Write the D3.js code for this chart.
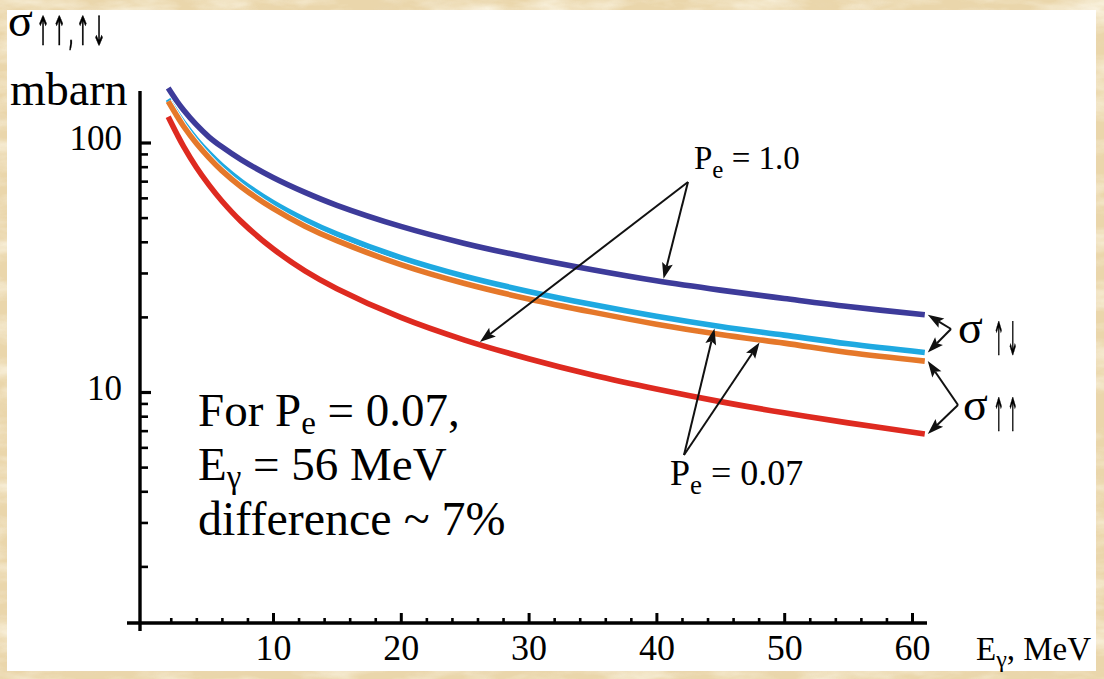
<!DOCTYPE html>
<html>
<head>
<meta charset="utf-8">
<script src="https://cdn.jsdelivr.net/npm/d3@7"></script>
<style>
  html, body { margin: 0; padding: 0; background: #ead6ab; }
  svg { display: block; }
  text { font-family: "Liberation Serif", "Times New Roman", serif; fill: #000; }
</style>
</head>
<body>
<svg id="chart" width="1104" height="679"></svg>
<script>
// Photon energy grid, MeV
const energy = [1.8, 2.5, 3, 4, 5, 6, 7.5, 10, 12.5, 15, 20, 25, 30, 35, 40, 45, 50, 55, 61];

// Cross sections, mbarn
const sigmaUpDownPe100 = [165.4, 146.0, 135.0, 117.9, 105.2, 96.1, 85.4, 72.4, 63.1, 56.0, 46.1, 39.4, 34.6, 30.9, 27.9, 25.6, 23.7, 22.0, 20.4];
const sigmaUpDownPe007 = [149.0, 130.6, 119.7, 102.8, 90.3, 80.6, 69.8, 57.4, 49.0, 42.9, 34.55, 29.1, 25.3, 22.4, 20.1, 18.3, 16.9, 15.6, 14.4];
const sigmaUpUpPe007   = [146.1, 127.4, 116.2, 99.3, 86.8, 77.1, 66.5, 54.4, 46.2, 40.4, 32.4, 27.2, 23.6, 20.9, 18.7, 17.0, 15.7, 14.4, 13.3];
const sigmaUpUpPe100   = [126.9, 107.7, 96.5, 79.6, 67.5, 58.3, 48.3, 37.5, 30.6, 25.96, 19.9, 16.15, 13.6, 11.7, 10.28, 9.15, 8.25, 7.52, 6.79];

// Axis ticks
const xTickMajor = [10, 20, 30, 40, 50, 60];
const xTickMinor = [2, 4, 6, 8, 12, 14, 16, 18, 22, 24, 26, 28, 32, 34, 36, 38, 42, 44, 46, 48, 52, 54, 56, 58];
const yTickMajor = [10, 100];
const yTickMinor = [2, 3, 4, 5, 6, 7, 8, 9, 20, 30, 40, 50, 60, 70, 80, 90];

const svg = d3.select("#chart");

// ---- parchment frame and white panel ----
const defs = svg.append("defs");
const fLight = defs.append("filter").attr("id", "grainLight")
  .attr("x", 0).attr("y", 0).attr("width", "100%").attr("height", "100%");
fLight.append("feTurbulence").attr("type", "fractalNoise")
  .attr("baseFrequency", "0.015 0.05").attr("numOctaves", 4).attr("seed", 7);
fLight.append("feColorMatrix").attr("type", "matrix")
  .attr("values", "0 0 0 0 0.98  0 0 0 0 0.94  0 0 0 0 0.82  2.2 0 0 0 -0.9");
const fDark = defs.append("filter").attr("id", "grainDark")
  .attr("x", 0).attr("y", 0).attr("width", "100%").attr("height", "100%");
fDark.append("feTurbulence").attr("type", "fractalNoise")
  .attr("baseFrequency", "0.03 0.08").attr("numOctaves", 3).attr("seed", 19);
fDark.append("feColorMatrix").attr("type", "matrix")
  .attr("values", "0 0 0 0 0.82  0 0 0 0 0.70  0 0 0 0 0.50  2.4 0 0 0 -1.35");
// pass-through filter so narrow glyphs get plain grey antialiasing
defs.append("filter").attr("id", "flat").append("feOffset").attr("dx", 0).attr("dy", 0);

svg.append("rect").attr("width", 1104).attr("height", 679).attr("fill", "#ead6ab");
svg.append("rect").attr("width", 1104).attr("height", 679).attr("filter", "url(#grainLight)").attr("opacity", 0.8);
svg.append("rect").attr("width", 1104).attr("height", 679).attr("filter", "url(#grainDark)").attr("opacity", 0.35);
svg.append("rect").attr("x", 7).attr("y", 10).attr("width", 1089).attr("height", 661).attr("fill", "#ffffff");

// ---- scales ----
const AXIS_X = 140;   // vertical axis position
const AXIS_Y = 623;   // horizontal axis position
const x = d3.scaleLinear().domain([10, 60]).range([273, 912]);
const y = d3.scaleLog().domain([10, 100]).range([392, 142.5]);

// ---- axes ----
function styleAxis(g, width) {
  g.select(".domain").remove();
  g.selectAll(".tick line").attr("stroke", "#000").attr("stroke-width", width);
  g.selectAll(".tick text").attr("fill", "#000")
    .style("font-family", '"Liberation Serif", "Times New Roman", serif');
}

svg.append("g").attr("transform", `translate(0,${AXIS_Y})`)
  .call(d3.axisBottom(x).tickValues(xTickMinor).tickSize(-5).tickFormat(""))
  .call(g => styleAxis(g, 2.6));
svg.append("g").attr("transform", `translate(0,${AXIS_Y})`)
  .call(d3.axisBottom(x).tickValues(xTickMajor).tickSize(-10).tickPadding(11).tickFormat(d3.format("d")))
  .call(g => styleAxis(g, 3))
  .call(g => g.selectAll(".tick text").style("font-size", "36px"));

svg.append("g").attr("transform", `translate(${AXIS_X},0)`)
  .call(d3.axisLeft(y).tickValues(yTickMinor).tickSize(-8).tickFormat(""))
  .call(g => styleAxis(g, 2.6));
svg.append("g").attr("transform", `translate(${AXIS_X},0)`)
  .call(d3.axisLeft(y).tickValues(yTickMajor).tickSize(-11).tickPadding(18).tickFormat(d3.format("d")))
  .call(g => styleAxis(g, 3.2))
  .call(g => g.selectAll(".tick text").style("font-size", "35px").attr("dy", "0.2em"));

// axis lines
svg.append("line").attr("x1", 127).attr("x2", 927).attr("y1", AXIS_Y).attr("y2", AXIS_Y)
  .attr("stroke", "#000").attr("stroke-width", 3.4);
svg.append("line").attr("x1", AXIS_X).attr("x2", AXIS_X).attr("y1", 91).attr("y2", 631)
  .attr("stroke", "#000").attr("stroke-width", 3.4);

// ---- curves ----
const series = [
  { key: "updown007", values: sigmaUpDownPe007, color: "#1fa9e1" },
  { key: "upup007",   values: sigmaUpUpPe007,   color: "#e5782a" },
  { key: "upup100",   values: sigmaUpUpPe100,   color: "#de2a20" },
  { key: "updown100", values: sigmaUpDownPe100, color: "#3d3b9a" }
];
const line = d3.line().x(d => x(d[0])).y(d => y(d[1])).curve(d3.curveCatmullRom.alpha(0.5));

const curves = svg.append("g").attr("fill", "none");
series.forEach(s => {
  const pts = energy.map((e, i) => [e, s.values[i]]);
  curves.append("path").attr("d", line(pts)).attr("stroke", "#fff").attr("stroke-width", 7.2);
  curves.append("path").attr("d", line(pts)).attr("stroke", s.color).attr("stroke-width", 5.6);
});

// value of a series at energy e, interpolated in log space
function valueAt(values, e) {
  const f = d3.scaleLinear().domain(energy).range(values.map(Math.log10));
  return Math.pow(10, f(e));
}
const pt = (values, e) => [x(e), y(valueAt(values, e))];

// ---- annotation arrows ----
const ann = svg.append("g");
function arrow(from, to, gap) {
  const dx = to[0] - from[0], dy = to[1] - from[1];
  const L = Math.hypot(dx, dy), ux = dx / L, uy = dy / L;
  const tip = [to[0] - ux * gap, to[1] - uy * gap];
  const headLen = 16, headW = 5.5;
  const base = [tip[0] - ux * headLen, tip[1] - uy * headLen];
  const notch = [tip[0] - ux * (headLen - 3), tip[1] - uy * (headLen - 3)];
  ann.append("line").attr("x1", from[0]).attr("y1", from[1])
    .attr("x2", notch[0]).attr("y2", notch[1])
    .attr("stroke", "#111").attr("stroke-width", 2);
  ann.append("path")
    .attr("d", `M${tip[0]},${tip[1]}L${base[0] - uy * headW},${base[1] + ux * headW}` +
               `L${notch[0]},${notch[1]}L${base[0] + uy * headW},${base[1] - ux * headW}Z`)
    .attr("fill", "#111");
}
const eEnd = energy[energy.length - 1];
const endPt = values => { const p = pt(values, eEnd); return [p[0] + 3, p[1]]; };

const oPe100 = [688, 182];
arrow(oPe100, pt(sigmaUpDownPe100, 40.5), 3);
arrow(oPe100, pt(sigmaUpUpPe100, 26), 3);
const oPe007 = [684, 455];
arrow(oPe007, pt(sigmaUpDownPe007, 44.6), 3);
arrow(oPe007, pt(sigmaUpUpPe007, 48.2), 3);
const oUpDown = [951, 329];
arrow(oUpDown, endPt(sigmaUpDownPe100), 0);
arrow(oUpDown, endPt(sigmaUpDownPe007), 0);
const oUpUp = [958, 405];
arrow(oUpUp, endPt(sigmaUpUpPe007), 0);
arrow(oUpUp, endPt(sigmaUpUpPe100), 0);

// ---- text with subscripts ----
function rich(px, py, size, parts, subScale = 0.68, subShift = 0.2) {
  const t = svg.append("text").attr("x", px).attr("y", py).style("font-size", size + "px");
  let shifted = 0;
  parts.forEach(p => {
    const sp = t.append("tspan").text(p.t);
    if (p.sub) {
      const d = Math.round(size * subShift);
      sp.attr("dy", d - shifted).style("font-size", Math.round(size * subScale) + "px");
      shifted = d;
    } else {
      if (shifted) sp.attr("dy", -shifted);
      shifted = 0;
    }
  });
  return t;
}
// spin-arrow subscripts: tall, narrow upright arrows
function spinArrows(px, py, size, str, sx, spacing) {
  svg.append("g").attr("filter", "url(#flat)")
    .append("text")
    .attr("transform", `translate(${px},${py}) scale(${sx},1)`)
    .style("font-family", '"DejaVu Sans", sans-serif')
    .style("font-size", size + "px")
    .style("letter-spacing", spacing + "px")
    .attr("stroke", "#000").attr("stroke-width", 0.6)
    .text(str);
}

rich(8, 36, 46, [{ t: "σ" }]);
spinArrows(36, 45, 40, "↑↑,↑↓", 0.42, 5);
rich(10, 105, 46, [{ t: "mbarn" }]);

rich(694, 169, 33, [{ t: "P" }, { t: "e", sub: true }, { t: " = 1.0" }], 0.76, 0.26);
rich(670, 485, 36, [{ t: "P" }, { t: "e", sub: true }, { t: " = 0.07" }], 0.75, 0.25);

rich(958, 343, 46, [{ t: "σ" }]);
spinArrows(993, 355, 46, "↑↓", 0.3, 8);
rich(963, 420, 46, [{ t: "σ" }]);
spinArrows(993, 431, 46, "↑↑", 0.3, 8);

rich(198, 426, 47, [{ t: "For P" }, { t: "e", sub: true }, { t: " = 0.07," }], 0.7, 0.18);
rich(198, 480, 47, [{ t: "E" }, { t: "γ", sub: true }, { t: " = 56 MeV" }], 0.7, 0.18);
rich(198, 535, 48, [{ t: "difference ~ 7%" }]);

rich(976, 660, 33, [{ t: "E" }, { t: "γ", sub: true }, { t: ", MeV" }], 0.72, 0.2);
</script>
</body>
</html>
